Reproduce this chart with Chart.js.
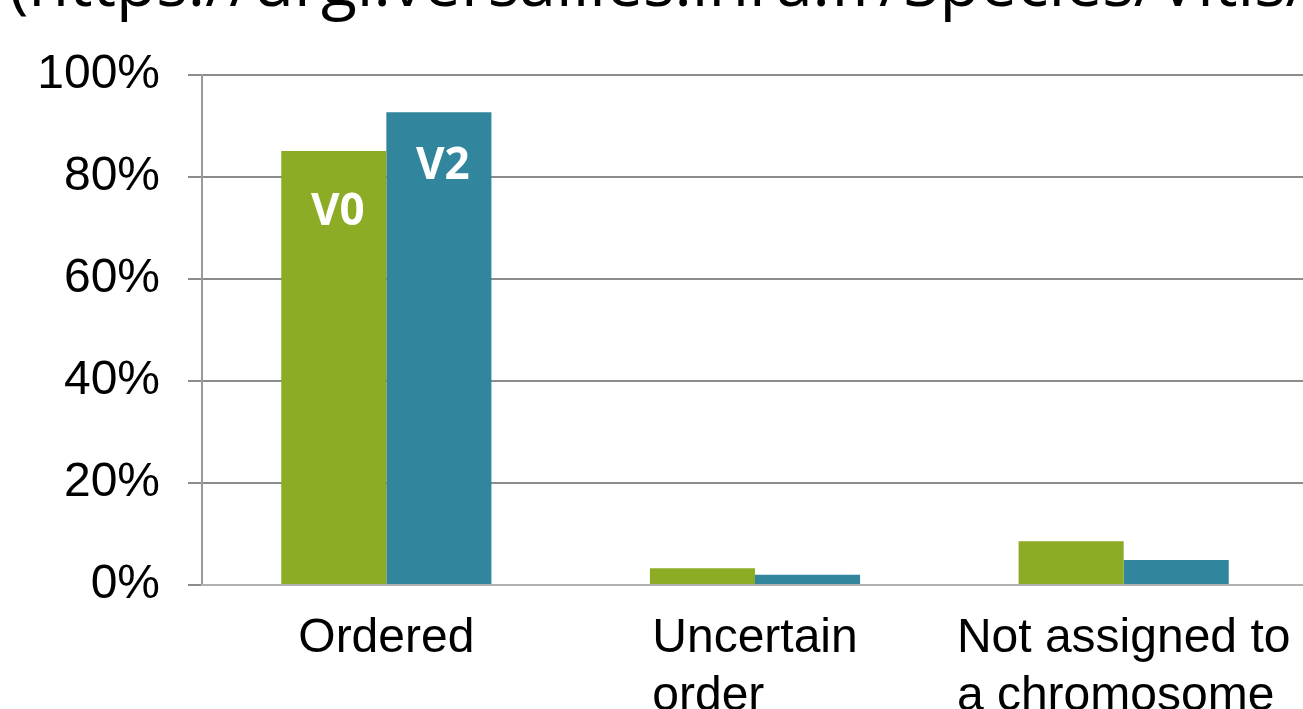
<!DOCTYPE html>
<html>
<head>
<meta charset="utf-8">
<script src="https://cdn.jsdelivr.net/npm/chart.js@4.4.1/dist/chart.umd.min.js"></script>
<style>
  html, body { margin: 0; padding: 0; background: #fff; overflow: hidden; }
  #wrap { position: absolute; left: 0; top: 0; width: 1308px; height: 740px; }
  #url { position: absolute; left: 0; top: 0; overflow: visible; }
</style>
</head>
<body>
<div id="wrap"><canvas id="chart"></canvas></div>
<svg id="url" width="1303" height="40">
  <text x="9" y="6" font-family="Open Sans" font-size="66" fill="#000">(https://urgi.versailles.inra.fr/Species/Vitis/Data-Sequences/Genome-sequences)</text>
</svg>
<script>
(function () {
  const categories = ["Ordered", ["Uncertain", "order"], ["Not assigned to", "a chromosome"]];
  const seriesNames = ["V0", "V2"];
  const v0Values = [85.1, 3.3, 8.6];
  const v2Values = [92.7, 2.0, 4.9];
  const yTicks = [0, 20, 40, 60, 80, 100];

  const grapharea = document.getElementById("chart");
  const labelFont = "48px 'Liberation Sans', Arial";

  // white bold series names inside the first pair of bars
  const barNames = {
    id: "barNames",
    afterDatasetsDraw(chart) {
      const ctx = chart.ctx;
      ctx.save();
      ctx.fillStyle = "#fff";
      ctx.font = "bold 44px 'Open Sans'";
      ctx.textAlign = "center";
      ctx.textBaseline = "middle";
      const offsets = [61, 54];
      chart.data.datasets.forEach((ds, i) => {
        const bar = chart.getDatasetMeta(i).data[0];
        ctx.fillText(seriesNames[i], bar.x + 4, bar.y + offsets[i]);
      });
      ctx.restore();
    },
  };

  // category labels: lines left-aligned inside a block centred on the tick
  const catLabels = {
    id: "catLabels",
    afterDraw(chart) {
      const ctx = chart.ctx;
      const xs = chart.scales.x;
      ctx.save();
      ctx.fillStyle = "#000";
      ctx.font = labelFont;
      ctx.textAlign = "left";
      ctx.textBaseline = "alphabetic";
      categories.forEach((lab, i) => {
        const lines = Array.isArray(lab) ? lab : [lab];
        const w = Math.max(...lines.map((l) => ctx.measureText(l).width));
        const left = xs.getPixelForTick(i) - w / 2;
        lines.forEach((l, j) => {
          ctx.fillText(l, left, xs.top + 67 + j * 58);
        });
      });
      ctx.restore();
    },
  };

  const data = {
    labels: categories,
    datasets: [
      {
        label: seriesNames[0],
        backgroundColor: "#8BAC24",
        data: v0Values,
      },
      {
        label: seriesNames[1],
        backgroundColor: "#31869E",
        data: v2Values,
      },
    ],
  };

  const config = {
    type: "bar",
    data: data,
    options: {
      responsive: true,
      maintainAspectRatio: false,
      devicePixelRatio: 1,
      animation: false,
      layout: { padding: { top: 75, left: 0, right: 0, bottom: 0 } },
      datasets: {
        bar: { categoryPercentage: 0.57, barPercentage: 1.0 },
      },
      scales: {
        y: {
          min: 0,
          max: 100,
          afterBuildTicks: (scale) => {
            scale.ticks = yTicks.map((v) => ({ value: v }));
          },
          afterFit: (scale) => {
            scale.width = 202;
          },
          ticks: {
            callback: (v) => v + "%",
            color: "#000",
            padding: 28,
            font: { family: "'Liberation Sans', Arial", size: 48 },
          },
          grid: {
            color: "#8c8c8c",
            lineWidth: 2,
            tickLength: 14,
            tickColor: "#8c8c8c",
          },
          border: { display: true, color: "#9a9a9a", width: 2 },
        },
        x: {
          afterFit: (scale) => {
            scale.height = 740 - 585;
          },
          ticks: { display: false },
          grid: { display: false, drawTicks: false },
          border: { display: true, color: "#b0b0b0", width: 2 },
        },
      },
      plugins: {
        legend: { display: false },
        tooltip: { enabled: false },
      },
    },
    plugins: [barNames, catLabels],
  };

  new Chart(grapharea, config);
})();
</script>
</body>
</html>
